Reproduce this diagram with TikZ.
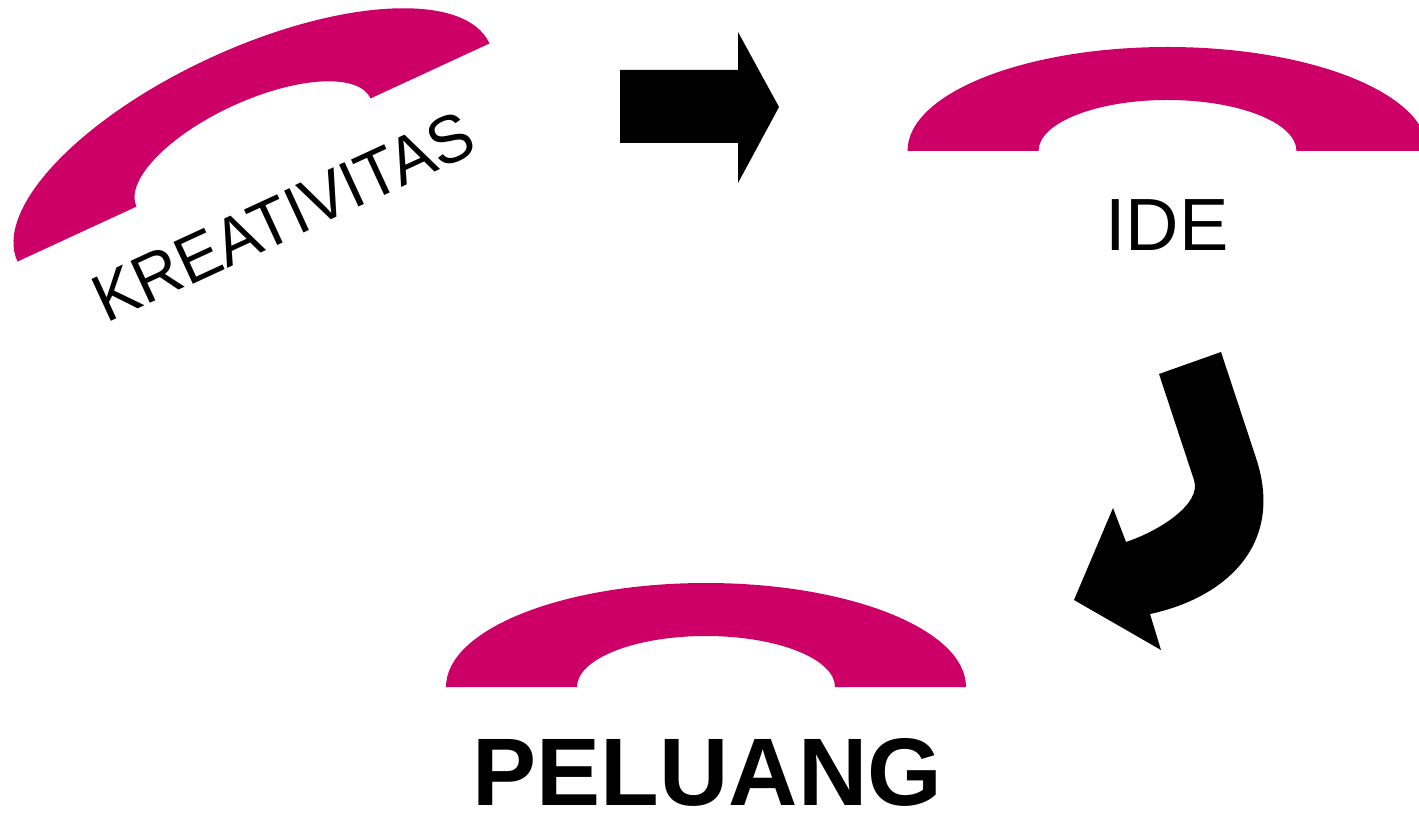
\documentclass[tikz,border=0pt]{standalone}
\usepackage{fontspec}
\setmainfont{Liberation Sans}
\definecolor{archred}{RGB}{204,0,102}
\newcommand\kfont{\fontsize{67}{75}\selectfont}
\begin{document}
\begin{tikzpicture}[x=1pt,y=1pt,
  archpic/.pic={\fill[archred] (-260pt,0pt) arc[start angle=180,end angle=0,x radius=260pt,y radius=104pt] -- (129pt,0pt) arc[start angle=0,end angle=180,x radius=129pt,y radius=51pt] -- cycle;},
  blockarrow/.style={fill=black},
  lbl/.style={inner sep=0pt,anchor=base,text=black}]
\useasboundingbox (0,0) rectangle (1419,812);
\clip (0,0) rectangle (1419,812);
% arches
\pic[rotate=24.8] at (253.5,659.5) {archpic};
\pic at (1167.5,661) {archpic};
\pic at (706,125) {archpic};
% rotated label
\begin{scope}[shift={(106.5,488)},rotate=24.8,xscale=0.965]
\node[lbl,anchor=base west,transform shape,font=\kfont] (kreat) at (0,0) {KREATIVITAS};
\end{scope}
\node[lbl,font=\fontsize{74}{84}\selectfont] (ide) at (1166.7,561) {IDE};
\node[lbl,font=\fontsize{96}{106}\selectfont\bfseries] (peluang) at (707.4,7) {PELUANG};
% straight arrow
\fill[blockarrow] (620,742) -- (738,742) -- (738,780) -- (779,705) -- (738,629) -- (738,669) -- (620,669) -- cycle;
% curved arrow
\fill[blockarrow] (1159,438) -- (1221,460) -- (1256,354)
  .. controls (1285,267) and (1225,214) .. (1150,198)
  -- (1161,162) -- (1074,212) -- (1113,304) -- (1126,270)
  .. controls (1159,281) and (1202,308) .. (1194,332) -- cycle;
\end{tikzpicture}
\end{document}
